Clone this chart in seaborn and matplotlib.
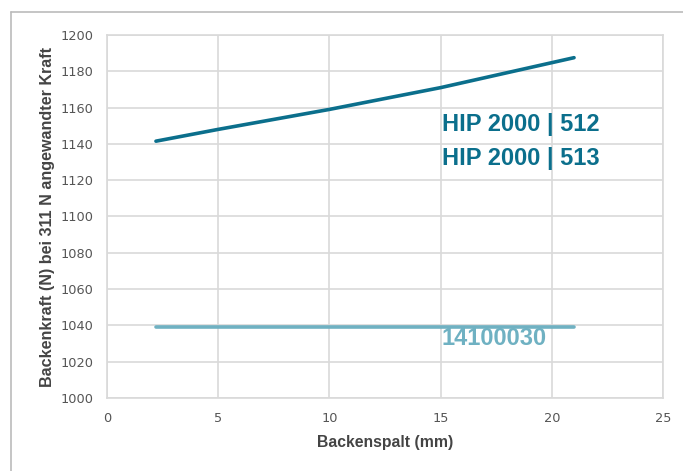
import matplotlib
matplotlib.use("Agg")
import matplotlib.pyplot as plt
import seaborn as sns
import pandas as pd
from matplotlib.lines import Line2D

# Data
gap_hip = [2.2, 5, 10, 15, 21]
force_hip = [1141.5, 1148, 1159, 1171, 1187.5]
gap_141 = [2.2, 21]
force_141 = [1039, 1039]
x_ticks = [0, 5, 10, 15, 20, 25]
y_ticks = [1000, 1020, 1040, 1060, 1080, 1100, 1120, 1140, 1160, 1180, 1200]
label_hip = ["HIP 2000 | 512", "HIP 2000 | 513"]
label_141 = "14100030"
x_label = "Backenspalt (mm)"
y_label = "Backenkraft (N) bei 311 N angewandter Kraft"

sns.set_theme(style="white")
plt.rcParams['font.family'] = ['Liberation Sans', 'DejaVu Sans']

c_dark = "#0b6f8c"
c_light = "#6fb1c2"
grid_c = "#d9d9d9"

fig = plt.figure(figsize=(6.83, 4.71), dpi=100)
ax = fig.add_axes([0.1567, 0.155, 0.814, 0.7707])

df1 = pd.DataFrame({"x": gap_hip, "y": force_hip})
df2 = pd.DataFrame({"x": gap_141, "y": force_141})
sns.lineplot(data=df1, x="x", y="y", ax=ax, color=c_dark, linewidth=2.6)
sns.lineplot(data=df2, x="x", y="y", ax=ax, color=c_light, linewidth=2.6)

ax.set_xlim(0, 25)
ax.set_ylim(1000, 1200)
ax.set_xticks(x_ticks)
ax.set_yticks(y_ticks)
ax.set_xticklabels([str(t) for t in x_ticks], family=['DejaVu Sans'])
ax.set_yticklabels([str(t) for t in y_ticks], family=['DejaVu Sans'])
ax.tick_params(axis='both', length=0, labelsize=9.3, labelcolor="#555555", pad=10)
ax.tick_params(axis='x', pad=10)
ax.grid(True, color=grid_c, linewidth=1.2)
for s in ax.spines.values():
    s.set_color(grid_c)
    s.set_linewidth(1.2)
ax.set_xlabel(x_label, fontsize=11.3, fontweight='bold', color="#444444", labelpad=7)
ax.set_ylabel(y_label, fontsize=11.6, fontweight='bold', color="#444444", labelpad=4)

ax.text(15.05, 1150.5, label_hip[0], fontsize=17, fontweight='bold', color=c_dark, va='center', ha='left')
ax.text(15.05, 1132.2, label_hip[1], fontsize=17, fontweight='bold', color=c_dark, va='center', ha='left')
ax.text(15.05, 1033, label_141, fontsize=17, fontweight='bold', color=c_light, va='center', ha='left')

# outer frame (top and left)
fig.add_artist(Line2D([0.0161, 1.0], [0.9745, 0.9745], color="#bbbbbb", linewidth=1.2, transform=fig.transFigure))
fig.add_artist(Line2D([0.0161, 0.0161], [0.0, 0.9745], color="#bbbbbb", linewidth=1.2, transform=fig.transFigure))

fig.savefig("out.png", dpi=100)
